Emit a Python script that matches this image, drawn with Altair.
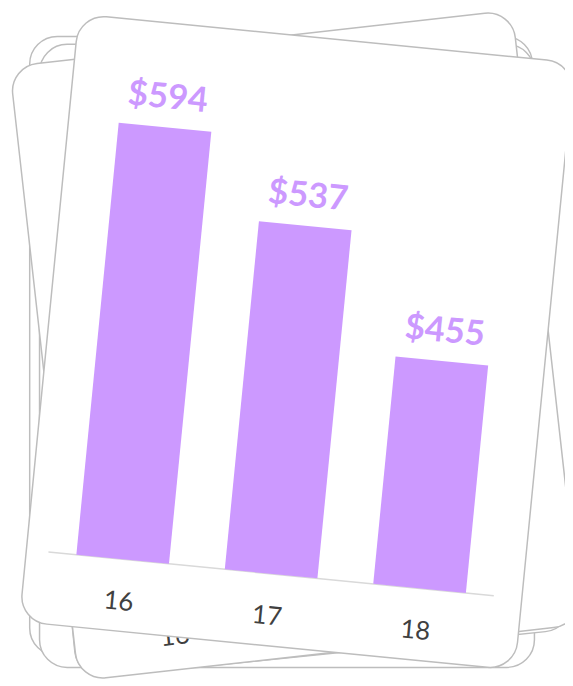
import math
import altair as alt
import pandas as pd

# ---------------- data ----------------
years = ["16", "17", "18"]
amounts = [594, 537, 455]
value_labels = ["$594", "$537", "$455"]

# ---------------- layout (screen px) ----------------
W, H = 565, 678
OFF = 8
PURPLE = "#cc99ff"
GRID = "#d9d9d9"
CARD_STROKE = "#bdbdbd"

# card frames: name, cx, cy, w, h, angle
back_cards = [
    ("A", 285.0, 346.0, 510, 628, 0.0),
    ("B", 291.0, 356.0, 502, 632, 0.0),
    ("C2", 298.5, 350.0, 505, 620, -5.8),
    ("C", 299.5, 345.5, 513, 627, -6.4),
]
front_card = ("F", 301.0, 342.0, 505, 619, 5.6)
RADIUS = 28

# chart geometry inside a card (relative to card centre, unrotated)
U0, STEP, BAR_W = -230.0, 151.3, 94.4
AXIS_V = 236.5
YMIN, K = 300.5, 1.5
LABEL_GAP = 19.5
TICK_V = 287.9

xs = alt.Scale(domain=[OFF, OFF + W], range=[0, W], nice=False, zero=False)
ys = alt.Scale(domain=[OFF, OFF + H], range=[0, H], nice=False, zero=False)

df = pd.DataFrame({
    "year": years,
    "amount": amounts,
    "label": value_labels,
    "idx": list(range(len(years))),
})


def card_path(w, h, r):
    s = max(w, h) / 2
    a, b, rr = w / 2 / s, h / 2 / s, r / s
    k = 0.5523 * rr
    f = lambda v: f"{v:.4f}"
    p = [
        f"M{f(-a+rr)},{f(-b)}",
        f"L{f(a-rr)},{f(-b)}",
        f"C{f(a-rr+k)},{f(-b)} {f(a)},{f(-b+rr-k)} {f(a)},{f(-b+rr)}",
        f"L{f(a)},{f(b-rr)}",
        f"C{f(a)},{f(b-rr+k)} {f(a-rr+k)},{f(b)} {f(a-rr)},{f(b)}",
        f"L{f(-a+rr)},{f(b)}",
        f"C{f(-a+rr-k)},{f(b)} {f(-a)},{f(b-rr+k)} {f(-a)},{f(b-rr)}",
        f"L{f(-a)},{f(-b+rr)}",
        f"C{f(-a)},{f(-b+rr-k)} {f(-a+rr-k)},{f(-b)} {f(-a+rr)},{f(-b)}",
        "Z",
    ]
    return " ".join(p)


def card_layer(card):
    name, cx, cy, w, h, ang = card
    d = pd.DataFrame({"cx": [cx], "cy": [cy]})
    return alt.Chart(d).mark_point(
        shape=card_path(w, h, RADIUS),
        size=max(w, h) ** 2,
        angle=ang % 360,
        filled=True,
        fill="white",
        stroke=CARD_STROKE,
        strokeWidth=1.5,
        opacity=1,
    ).encode(
        x=alt.X("cx:Q", scale=xs, axis=None),
        y=alt.Y("cy:Q", scale=ys, axis=None),
    )


def frame_calc(card, du, dv, xn, yn):
    _, cx, cy, _, _, ang = card
    c = math.cos(math.radians(ang))
    s = math.sin(math.radians(ang))
    return {
        xn: f"{cx} + ({du})*{c:.6f} - ({dv})*{s:.6f}",
        yn: f"{cy} + ({du})*{s:.6f} + ({dv})*{c:.6f}",
    }


DU = f"{U0} + {STEP}*(datum.idx + 0.5)"
DVT = f"{AXIS_V} - (datum.amount - {YMIN})*{K}"


def tick_layer(card):
    ang = card[5]
    return alt.Chart(df).transform_calculate(
        **frame_calc(card, DU, f"{TICK_V}", "tx", "ty")
    ).mark_text(
        font="Lato", fontSize=26, color="#404040", align="center",
        baseline="alphabetic", angle=ang % 360,
    ).encode(
        x=alt.X("tx:Q", scale=xs, axis=None),
        y=alt.Y("ty:Q", scale=ys, axis=None),
        text="year:N",
    )


layers = [card_layer(c) for c in back_cards]
layers.append(tick_layer(back_cards[-1]))
layers.append(card_layer(front_card))

# axis line of the front card
axis_df = pd.DataFrame({"u0": [U0], "u1": [U0 + STEP * len(years)]})
axis_layer = alt.Chart(axis_df).transform_calculate(
    **frame_calc(front_card, "datum.u0", f"{AXIS_V}", "ax0", "ay0")
).transform_calculate(
    **frame_calc(front_card, "datum.u1", f"{AXIS_V}", "ax1", "ay1")
).mark_rule(color=GRID, strokeWidth=1.5).encode(
    x=alt.X("ax0:Q", scale=xs, axis=None),
    y=alt.Y("ay0:Q", scale=ys, axis=None),
    x2="ax1:Q",
    y2="ay1:Q",
)
layers.append(axis_layer)

bars = alt.Chart(df).transform_calculate(
    **frame_calc(front_card, DU, f"{AXIS_V}", "bx0", "by0")
).transform_calculate(
    **frame_calc(front_card, DU, DVT, "bx1", "by1")
).mark_rule(color=PURPLE, strokeWidth=BAR_W, strokeCap="butt").encode(
    x=alt.X("bx0:Q", scale=xs, axis=None),
    y=alt.Y("by0:Q", scale=ys, axis=None),
    x2="bx1:Q",
    y2="by1:Q",
)
layers.append(bars)

vlabels = alt.Chart(df).transform_calculate(
    **frame_calc(front_card, DU, f"({DVT}) - {LABEL_GAP}", "lx", "ly")
).mark_text(
    font="Lato", fontSize=35, fontWeight="bold", color=PURPLE,
    align="center", baseline="alphabetic", angle=front_card[5] % 360,
).encode(
    x=alt.X("lx:Q", scale=xs, axis=None),
    y=alt.Y("ly:Q", scale=ys, axis=None),
    text="label:N",
)
layers.append(vlabels)
layers.append(tick_layer(front_card))

chart = alt.layer(*layers).properties(
    width=W, height=H, padding=0, autosize="none", background="white"
).configure_view(stroke=None)

chart.save("out.html", embed_options={"renderer": "svg", "actions": False})
